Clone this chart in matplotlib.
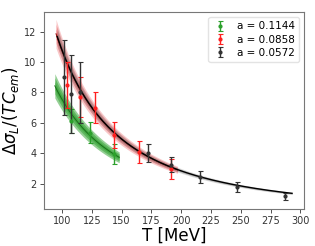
import numpy as np
import matplotlib
matplotlib.use("Agg")
import matplotlib.pyplot as plt

# data
labels = ["a = 0.1144", "a = 0.0858", "a = 0.0572"]
colors = ["#2ca02c", "#ff2020", "#333333"]
band_colors = ["#2ca02c", "#e8262a", "#7a7a7a"]
line_colors = ["#1a6e1a", "#8b0000", "black"]

T_green = [107.8, 123.2, 143.7]
y_green = [6.1, 5.35, 3.95]
e_green = [0.8, 0.7, 0.65]

T_red = [104.5, 115.0, 127.8, 143.7, 164.3, 191.7]
y_red = [8.5, 7.7, 7.0, 5.2, 4.07, 2.95]
e_red = [1.5, 1.3, 1.0, 0.85, 0.72, 0.65]

T_black = [101.5, 107.8, 115.0, 172.5, 191.7, 215.6, 246.4, 287.5]
y_black = [9.0, 7.9, 8.0, 4.0, 3.25, 2.42, 1.78, 1.15]
e_black = [2.45, 2.55, 2.0, 0.6, 0.52, 0.38, 0.33, 0.22]

# fit curves y = amp * (100/T)**pow, band half widths (relative)
fit_amp = [7.55, 10.75, 10.8]
fit_pow = [1.80, 1.93, 1.93]
fit_range = [(94, 148), (95, 197), (96, 293)]
fit_relwidth = [0.095, 0.08, 0.055]
band_alpha = [(0.5, 0.5, 0.5), (0.25, 0.3, 0.4), (0.25, 0.3, 0.4)]

fig = plt.figure(figsize=(3.15, 2.46), dpi=100)
ax = fig.add_axes([0.14, 0.152, 0.825, 0.799])

datasets = [(T_green, y_green, e_green), (T_red, y_red, e_red), (T_black, y_black, e_black)]

for i in range(3):
    Tf = np.linspace(fit_range[i][0], fit_range[i][1], 200)
    yf = fit_amp[i] * (100.0 / Tf) ** fit_pow[i]
    w = fit_relwidth[i] * yf
    for k, a in zip([1.0, 0.66, 0.33], band_alpha[i]):
        ax.fill_between(Tf, yf - w * k, yf + w * k, color=band_colors[i], alpha=a, lw=0)
    ax.plot(Tf, yf, color=line_colors[i], lw=1.0 if i == 2 else 0.7)

for i, (T, y, e) in enumerate(datasets):
    ax.errorbar(T, y, yerr=e, fmt='o', ms=2, color=colors[i], ecolor=colors[i],
                elinewidth=1.0, capsize=1.8, capthick=0.8, label=labels[i])

ax.set_xlim(85, 303)
ax.set_ylim(0.35, 13.3)
ax.set_xticks([100, 125, 150, 175, 200, 225, 250, 275, 300])
ax.set_yticks([2, 4, 6, 8, 10, 12])
ax.tick_params(labelsize=7, colors="#333333", length=3, width=0.6, pad=2.5)
for s in ax.spines.values():
    s.set_color("#777777")
    s.set_linewidth(0.8)

ax.set_xlabel("T [MeV]", fontsize=12, labelpad=0)
ax.set_ylabel(r"$\Delta\sigma_L/(TC_{em})$", fontsize=12, labelpad=2)

leg = ax.legend(loc="upper right", fontsize=7.5, frameon=True, handlelength=1.5,
                borderpad=0.4, labelspacing=0.3)
leg.get_frame().set_edgecolor("#dddddd")

fig.savefig("out.png", dpi=100)
